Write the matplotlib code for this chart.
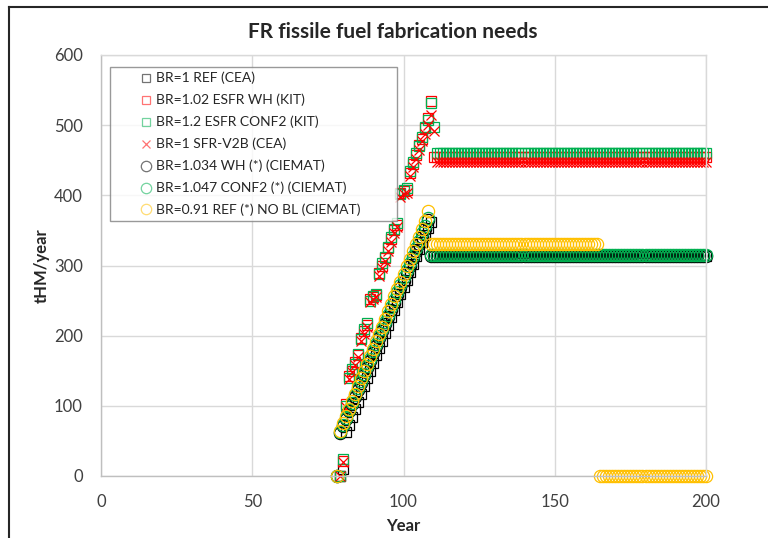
import numpy as np
import matplotlib.pyplot as plt
from matplotlib.lines import Line2D

plt.rcParams['font.family'] = ['Lato', 'DejaVu Sans']

# BR=1 REF (CEA) - black squares, ramp from 79, plateau after
ref_cea_start = 79
ref_cea_ramp = [0, 10, 63, 72, 84, 95, 106, 117, 128, 139, 150, 161, 172, 183, 193, 204,
                215, 226, 237, 248, 259, 269, 280, 291, 302, 313, 323, 334, 344, 353, 362]
ref_cea_plateau = 314

# BR=1.02 ESFR WH (KIT) - red squares
wh_kit_start = 79
wh_kit_ramp = [0, 22, 102, 142, 150, 162, 172, 197, 207, 215, 252, 255, 258, 290, 300, 310,
               325, 338, 350, 358, 404, 406, 408, 432, 445, 458, 472, 480, 496, 510, 535]
wh_kit_plateau = 455

# BR=1.2 ESFR CONF2 (KIT) - green squares
conf2_kit_start = 79
conf2_kit_ramp = [0, 24, 100, 140, 152, 160, 174, 195, 209, 218, 250, 256, 260, 288, 303, 312,
                  327, 340, 352, 360, 402, 408, 410, 435, 448, 460, 470, 483, 498, 508, 532, 497]
conf2_kit_plateau = 460

# BR=1 SFR-V2B (CEA) - red crosses
v2b_cea_start = 79
v2b_cea_ramp = [0, 20, 98, 138, 148, 158, 170, 192, 203, 212, 248, 252, 255, 285, 296, 306,
                320, 334, 346, 355, 398, 402, 404, 428, 440, 452, 465, 478, 488, 500, 515, 492]
v2b_cea_plateau = 447

# BR=1.034 WH (*) (CIEMAT) - black circles
wh_ciemat_start = 78
wh_ciemat_ramp = [0, 61, 71, 81, 92, 102, 113, 123, 133, 144, 154, 164, 175, 185, 196, 206,
                  216, 227, 237, 247, 258, 268, 278, 289, 299, 310, 320, 330, 341, 352, 365]
wh_ciemat_plateau = 313

# BR=1.047 CONF2 (*) (CIEMAT) - green circles
conf2_ciemat_start = 78
conf2_ciemat_ramp = [0, 62, 73, 83, 94, 104, 115, 125, 136, 146, 157, 167, 178, 188, 199, 209,
                     220, 230, 241, 251, 262, 272, 283, 293, 304, 314, 325, 335, 346, 357, 368]
conf2_ciemat_plateau = 315

# BR=0.91 REF (*) NO BL (CIEMAT) - yellow circles, drops to zero after 164
nobl_start = 78
nobl_ramp = [0, 64, 75, 85, 96, 107, 117, 128, 139, 149, 160, 171, 181, 192, 203, 213,
             224, 235, 245, 256, 267, 277, 288, 299, 309, 320, 331, 341, 352, 363, 378]
nobl_plateau = 331
nobl_plateau_end = 164
nobl_tail = 0

last_year = 200


def build(start, ramp, plateau, plateau_end=last_year, tail=None):
    yrs = list(range(start, start + len(ramp)))
    vals = list(ramp)
    for yr in range(start + len(ramp), plateau_end + 1):
        yrs.append(yr)
        vals.append(plateau)
    if tail is not None:
        for yr in range(plateau_end + 1, last_year + 1):
            yrs.append(yr)
            vals.append(tail)
    return np.array(yrs), np.array(vals)


series = [
    ("BR=1 REF (CEA)", build(ref_cea_start, ref_cea_ramp, ref_cea_plateau), 's', 'black', 6.8),
    ("BR=1.02 ESFR WH (KIT)", build(wh_kit_start, wh_kit_ramp, wh_kit_plateau), 's', '#FF0000', 6.8),
    ("BR=1.2 ESFR CONF2 (KIT)", build(conf2_kit_start, conf2_kit_ramp, conf2_kit_plateau), 's', '#00B050', 6.8),
    ("BR=1 SFR-V2B (CEA)", build(v2b_cea_start, v2b_cea_ramp, v2b_cea_plateau), 'x', '#FF0000', 7.2),
    ("BR=1.034 WH (*) (CIEMAT)", build(wh_ciemat_start, wh_ciemat_ramp, wh_ciemat_plateau), 'o', 'black', 8.8),
    ("BR=1.047 CONF2 (*) (CIEMAT)", build(conf2_ciemat_start, conf2_ciemat_ramp, conf2_ciemat_plateau), 'o', '#00B050', 8.8),
    ("BR=0.91 REF (*) NO BL (CIEMAT)", build(nobl_start, nobl_ramp, nobl_plateau, nobl_plateau_end, nobl_tail), 'o', '#FFC000', 8.8),
]

fig = plt.figure(figsize=(7.68, 5.38), dpi=100)
ax = fig.add_axes([101 / 768, 1 - 476 / 538, 605 / 768, 421 / 538])

for label, (xs, ys), mk, col, ms in series:
    ax.plot(xs, ys, linestyle='none', marker=mk, markersize=ms,
            markerfacecolor='none', markeredgecolor=col, markeredgewidth=0.9,
            label=label, clip_on=False)

ax.set_xlim(0, 200)
ax.set_ylim(0, 600)
ax.set_xticks([0, 50, 100, 150, 200])
ax.set_yticks([0, 100, 200, 300, 400, 500, 600])
ax.grid(True, color='#D9D9D9', linewidth=1.0)
ax.set_axisbelow(True)
for s in ax.spines.values():
    s.set_color('#D9D9D9')
    s.set_linewidth(1.0)
ax.spines['left'].set_color('#BFBFBF')
ax.spines['bottom'].set_color('#BFBFBF')
ax.tick_params(length=0, labelsize=12, labelcolor='#404040', pad=13)

ax.set_ylabel('tHM/year', fontsize=12, fontweight='bold', color='#262626')
ax.yaxis.set_label_coords(-0.084, 0.5)
ax.set_xlabel('Year', fontsize=12, fontweight='bold', color='#262626')
ax.xaxis.set_label_coords(0.5, -0.1)

fig.text(393 / 768, 1 - 32 / 538, 'FR fissile fuel fabrication needs', ha='center', va='center',
         fontsize=15, fontweight='bold', color='#262626')

leg = ax.legend(loc='upper left', bbox_to_anchor=(9 / 605, 0, 287 / 605, 409 / 421),
                mode='expand', fontsize=10, frameon=True, fancybox=False,
                borderpad=0.35, handlelength=4.5, handletextpad=-1.55, labelspacing=0.68,
                numpoints=1, borderaxespad=0, markerscale=0.85)
leg.get_frame().set_edgecolor('#808080')
leg.get_frame().set_linewidth(1.0)
for t in leg.get_texts():
    t.set_color('#262626')
for h in leg.legend_handles:
    h.set_alpha(0.55)

# chart area border (top and left edges visible)
fig.add_artist(Line2D([9 / 768, 1], [1 - 7 / 538, 1 - 7 / 538], transform=fig.transFigure,
                      color='#262626', linewidth=1.5))
fig.add_artist(Line2D([9 / 768, 9 / 768], [0, 1 - 7 / 538], transform=fig.transFigure,
                      color='#262626', linewidth=1.5))

fig.savefig('out.png', dpi=100)
